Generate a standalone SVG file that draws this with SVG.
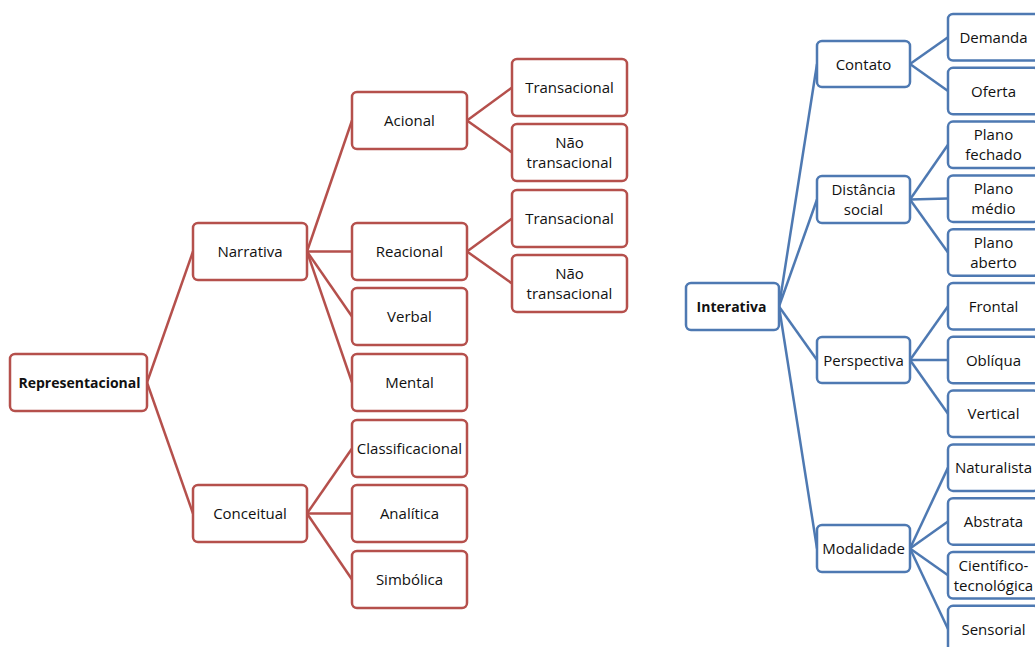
<svg xmlns="http://www.w3.org/2000/svg" width="1035" height="647" viewBox="0 0 1035 647">
<style>
  .r rect{fill:#fff;stroke:#B5504C;stroke-width:2.5}
  .b rect{fill:#fff;stroke:#4E79B2;stroke-width:2.5}
  text{font-family:"Open Sans","Liberation Sans",sans-serif;font-size:15px;fill:#111;text-anchor:middle}
  text.bold{font-weight:bold;font-size:14px}
  .cr line{stroke:#B5504C;stroke-width:2.5}
  .cb line{stroke:#4E79B2;stroke-width:2.5}
</style>
<rect width="1035" height="647" fill="#fff"/>
<g id="connectors">
  <g class="cr">
    <line x1="147" y1="382.5" x2="193" y2="251.5"/>
    <line x1="147" y1="382.5" x2="193" y2="513.5"/>
    <line x1="307" y1="251.5" x2="352" y2="120.5"/>
    <line x1="307" y1="251.5" x2="352" y2="251.5"/>
    <line x1="307" y1="251.5" x2="352" y2="316.5"/>
    <line x1="307" y1="251.5" x2="352" y2="382.5"/>
    <line x1="467" y1="120.5" x2="512" y2="87.5"/>
    <line x1="467" y1="120.5" x2="512" y2="152.5"/>
    <line x1="467" y1="251.5" x2="512" y2="218.5"/>
    <line x1="467" y1="251.5" x2="512" y2="283.5"/>
    <line x1="307" y1="513.5" x2="352" y2="448.5"/>
    <line x1="307" y1="513.5" x2="352" y2="513.5"/>
    <line x1="307" y1="513.5" x2="352" y2="579.5"/>
  </g>
  <g class="cb">
    <line x1="779" y1="306.5" x2="817" y2="64"/>
    <line x1="779" y1="306.5" x2="817" y2="199.5"/>
    <line x1="779" y1="306.5" x2="817" y2="360"/>
    <line x1="779" y1="306.5" x2="817" y2="548.5"/>
    <line x1="910" y1="64" x2="948" y2="37.2"/>
    <line x1="910" y1="64" x2="948" y2="91"/>
    <line x1="910" y1="199.5" x2="948" y2="144.8"/>
    <line x1="910" y1="199.5" x2="948" y2="198.6"/>
    <line x1="910" y1="199.5" x2="948" y2="252.4"/>
    <line x1="910" y1="360" x2="948" y2="306.2"/>
    <line x1="910" y1="360" x2="948" y2="360"/>
    <line x1="910" y1="360" x2="948" y2="413.8"/>
    <line x1="910" y1="548.5" x2="948" y2="467.6"/>
    <line x1="910" y1="548.5" x2="948" y2="521.4"/>
    <line x1="910" y1="548.5" x2="948" y2="575.2"/>
    <line x1="910" y1="548.5" x2="948" y2="629"/>
  </g>
</g>
<g class="r">
  <g id="representacional"><rect x="10" y="354" width="137" height="57" rx="5"/><text class="bold" x="79.5" y="388">Representacional</text></g>
  <g id="narrativa"><rect x="193" y="223" width="114" height="57" rx="5"/><text x="250" y="257">Narrativa</text></g>
  <g id="conceitual"><rect x="193" y="485" width="114" height="57" rx="5"/><text x="250" y="519">Conceitual</text></g>
  <g id="acional"><rect x="352" y="92" width="115" height="57" rx="5"/><text x="409.5" y="126">Acional</text></g>
  <g id="reacional"><rect x="352" y="223" width="115" height="57" rx="5"/><text x="409.5" y="257">Reacional</text></g>
  <g id="verbal"><rect x="352" y="288" width="115" height="57" rx="5"/><text x="409.5" y="322">Verbal</text></g>
  <g id="mental"><rect x="352" y="354" width="115" height="57" rx="5"/><text x="409.5" y="388">Mental</text></g>
  <g id="classificacional"><rect x="352" y="420" width="115" height="57" rx="5"/><text x="409.5" y="454">Classificacional</text></g>
  <g id="analitica"><rect x="352" y="485" width="115" height="57" rx="5"/><text x="409.5" y="519">Analítica</text></g>
  <g id="simbolica"><rect x="352" y="551" width="115" height="57" rx="5"/><text x="409.5" y="585">Simbólica</text></g>
  <g id="transacional1"><rect x="512" y="59" width="115" height="57" rx="5"/><text x="569.5" y="93">Transacional</text></g>
  <g id="naotransacional1"><rect x="512" y="124" width="115" height="57" rx="5"/><text x="569.5" y="148">Não</text><text x="569.5" y="168">transacional</text></g>
  <g id="transacional2"><rect x="512" y="190" width="115" height="57" rx="5"/><text x="569.5" y="224">Transacional</text></g>
  <g id="naotransacional2"><rect x="512" y="255" width="115" height="57" rx="5"/><text x="569.5" y="279">Não</text><text x="569.5" y="299">transacional</text></g>
</g>
<g class="b">
  <g id="interativa"><rect x="686" y="283" width="93" height="47" rx="5"/><text class="bold" x="731.5" y="312">Interativa</text></g>
  <g id="contato"><rect x="817" y="41" width="93" height="46" rx="5"/><text x="863.5" y="69.5">Contato</text></g>
  <g id="distancia"><rect x="817" y="176" width="93" height="47" rx="5"/><text x="863.5" y="195">Distância</text><text x="863.5" y="215">social</text></g>
  <g id="perspectiva"><rect x="817" y="337" width="93" height="46" rx="5"/><text x="863.5" y="365.5">Perspectiva</text></g>
  <g id="modalidade"><rect x="817" y="525" width="93" height="47" rx="5"/><text x="863.5" y="554">Modalidade</text></g>
  <g id="demanda"><rect x="948" y="14" width="91" height="46.5" rx="5"/><text x="993.5" y="42.7">Demanda</text></g>
  <g id="oferta"><rect x="948" y="67.8" width="91" height="46.5" rx="5"/><text x="993.5" y="96.5">Oferta</text></g>
  <g id="planofechado"><rect x="948" y="121.6" width="91" height="46.5" rx="5"/><text x="993.5" y="140.3">Plano</text><text x="993.5" y="160.3">fechado</text></g>
  <g id="planomedio"><rect x="948" y="175.4" width="91" height="46.5" rx="5"/><text x="993.5" y="194.1">Plano</text><text x="993.5" y="214.1">médio</text></g>
  <g id="planoaberto"><rect x="948" y="229.2" width="91" height="46.5" rx="5"/><text x="993.5" y="247.9">Plano</text><text x="993.5" y="267.9">aberto</text></g>
  <g id="frontal"><rect x="948" y="283" width="91" height="46.5" rx="5"/><text x="993.5" y="311.7">Frontal</text></g>
  <g id="obliqua"><rect x="948" y="336.8" width="91" height="46.5" rx="5"/><text x="993.5" y="365.5">Oblíqua</text></g>
  <g id="vertical"><rect x="948" y="390.6" width="91" height="46.5" rx="5"/><text x="993.5" y="419.3">Vertical</text></g>
  <g id="naturalista"><rect x="948" y="444.4" width="91" height="46.5" rx="5"/><text x="993.5" y="473.1">Naturalista</text></g>
  <g id="abstrata"><rect x="948" y="498.2" width="91" height="46.5" rx="5"/><text x="993.5" y="526.9">Abstrata</text></g>
  <g id="cientifico"><rect x="948" y="552" width="91" height="46.5" rx="5"/><text x="993.5" y="570.7">Científico-</text><text x="993.5" y="590.7">tecnológica</text></g>
  <g id="sensorial"><rect x="948" y="605.8" width="91" height="46.5" rx="5"/><text x="993.5" y="634.5">Sensorial</text></g>
</g>
</svg>
